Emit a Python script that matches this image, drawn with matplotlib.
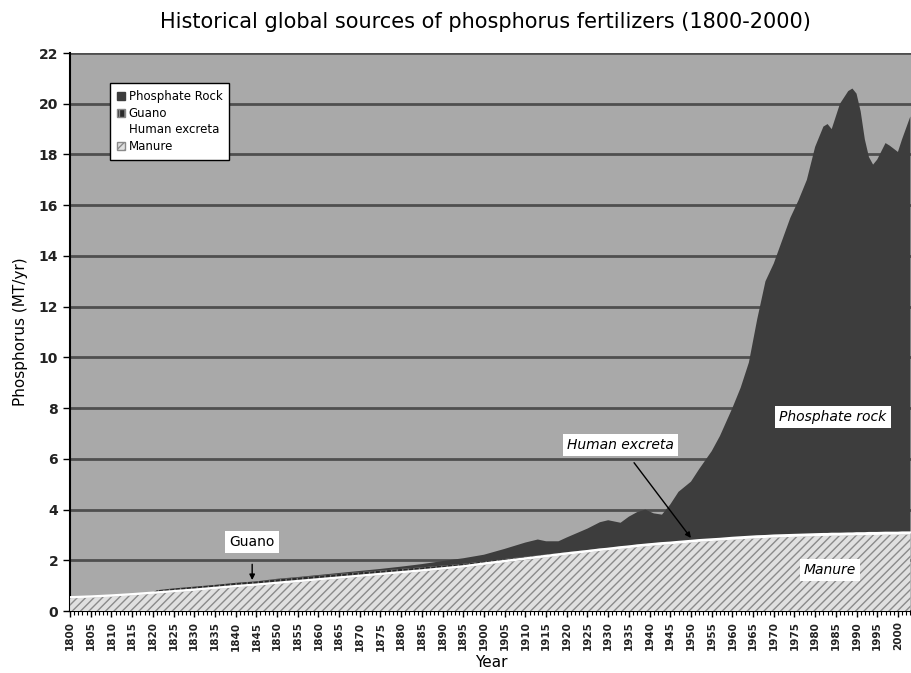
import numpy as np
import matplotlib
matplotlib.use("Agg")
import matplotlib.pyplot as plt
from matplotlib.patches import Patch

years = [1800, 1805, 1810, 1815, 1820, 1821, 1825, 1830, 1835, 1840, 1845, 1850,
         1855, 1860, 1865, 1870, 1875, 1880, 1885, 1890, 1895, 1900, 1905, 1910,
         1913, 1915, 1918, 1920, 1925, 1928, 1930, 1933, 1935, 1937, 1939, 1941,
         1943, 1945, 1947, 1950, 1952, 1955, 1957, 1960, 1962, 1964, 1966, 1968,
         1970, 1972, 1974, 1976, 1978, 1980, 1982, 1983, 1984, 1986, 1988, 1989,
         1990, 1991, 1992, 1993, 1994, 1995, 1997, 1998, 2000, 2001, 2003]

manure = [0.50, 0.53, 0.57, 0.62, 0.68, 0.69, 0.74, 0.80, 0.87, 0.94, 1.00, 1.07,
          1.14, 1.21, 1.28, 1.35, 1.42, 1.49, 1.56, 1.64, 1.72, 1.82, 1.92, 2.02,
          2.08, 2.12, 2.18, 2.22, 2.31, 2.37, 2.40, 2.45, 2.48, 2.52, 2.55, 2.58,
          2.61, 2.63, 2.66, 2.70, 2.73, 2.76, 2.78, 2.81, 2.83, 2.85, 2.87, 2.88,
          2.90, 2.91, 2.92, 2.93, 2.94, 2.95, 2.96, 2.96, 2.97, 2.97, 2.98, 2.98,
          2.99, 2.99, 2.99, 3.00, 3.00, 3.00, 3.01, 3.01, 3.01, 3.02, 3.02]

excreta = [0.05] * 21 + [0.06] * 10 + [0.07] * 12 + [0.08] * 28

guano = [0, 0, 0, 0, 0, 0.08, 0.10, 0.11, 0.11, 0.12, 0.12, 0.13,
         0.13, 0.13, 0.13, 0.13, 0.12, 0.12, 0.11, 0.10, 0.09, 0.08, 0.07, 0.06,
         0.05, 0.05, 0.04, 0.04, 0.03, 0.03, 0.03, 0.02, 0.02, 0.02, 0.02, 0.02,
         0.02, 0.02, 0.01, 0.01, 0.01, 0.01, 0.01] + [0] * 28

rock = [0, 0, 0, 0, 0, 0, 0, 0, 0, 0, 0, 0.02,
        0.02, 0.03, 0.04, 0.05, 0.07, 0.09, 0.13, 0.18, 0.22, 0.26, 0.40, 0.56,
        0.63, 0.52, 0.47, 0.58, 0.85, 1.04, 1.09, 0.94, 1.15, 1.29, 1.36, 1.18,
        1.10, 1.48, 1.96, 2.32, 2.79, 3.46, 4.04, 5.11, 5.89, 6.87, 8.55, 10.04,
        10.72, 11.61, 12.50, 13.19, 13.98, 15.27, 16.06, 16.16, 15.95, 16.95, 17.44, 17.54,
        17.33, 16.63, 15.53, 14.82, 14.52, 14.72, 15.36, 15.26, 15.01, 15.50, 16.40]

x = np.array(years)
m = np.array(manure)
e = m + np.array(excreta)
g = e + np.array(guano)
r = g + np.array(rock)

fig = plt.figure(figsize=(9.12, 6.73), dpi=100)
ax = fig.add_axes([0.0768, 0.0921, 0.9232, 0.8291])
ax.set_facecolor('#a9a9a9')

plt.rcParams['hatch.linewidth'] = 1.0
ax.fill_between(x, 0, m, facecolor='#e0e0e0', edgecolor='#8a8a8a', hatch='////', linewidth=0, zorder=3)
ax.fill_between(x, m, e, facecolor='white', linewidth=0, zorder=3)
ax.fill_between(x, e, g, facecolor='#2a2a2a', edgecolor='#777777', hatch='|||', linewidth=0, zorder=3)
ax.fill_between(x, g, r, facecolor='#3d3d3d', linewidth=0, zorder=3)
ax.plot(x, e, color='white', lw=1.4, zorder=4)

ax.set_xlim(1800, 2003.4)
ax.set_ylim(0, 22)
ax.set_yticks(np.arange(0, 23, 2))
ax.set_xticks(np.arange(1800, 2001, 5))
ax.set_xticks(np.arange(1800, 2004, 1), minor=True)
for v in range(2, 23, 2):
    ax.axhline(v, color='#4f4f4f', lw=2, zorder=1)

ax.tick_params(axis='y', direction='out', length=5, width=1, labelsize=10)
ax.tick_params(axis='x', which='major', direction='out', length=4, width=1, labelsize=7.5, labelrotation=90)
ax.tick_params(axis='x', which='minor', direction='out', length=3, width=0.8)
for lab in ax.get_xticklabels() + ax.get_yticklabels():
    lab.set_fontweight('bold')
    lab.set_color('#222222')
for s in ['top', 'right']:
    ax.spines[s].set_visible(False)
ax.spines['left'].set_linewidth(1.5)
ax.spines['bottom'].set_linewidth(1.5)

ax.set_ylabel('Phosphorus (MT/yr)', fontsize=11, labelpad=8)
ax.set_xlabel('Year', fontsize=11, labelpad=3)
fig.text(0.532, 0.968, 'Historical global sources of phosphorus fertilizers (1800-2000)',
         ha='center', va='center', fontsize=15)

handles = [Patch(facecolor='#3d3d3d', edgecolor='#3d3d3d', label='Phosphate Rock'),
           Patch(facecolor='#2a2a2a', edgecolor='#888888', hatch='|||', label='Guano'),
           Patch(facecolor='white', edgecolor='white', label='Human excreta'),
           Patch(facecolor='#e0e0e0', edgecolor='#8a8a8a', hatch='////', label='Manure')]
leg = ax.legend(handles=handles, loc='upper left', bbox_to_anchor=(0.047, 0.946),
                fontsize=8.5, frameon=True, fancybox=False, framealpha=1,
                handlelength=0.7, handleheight=0.7, handletextpad=0.3,
                labelspacing=0.3, borderpad=0.6, borderaxespad=0)
leg.get_frame().set_edgecolor('black')
leg.get_frame().set_facecolor('white')
leg.get_frame().set_linewidth(1)
leg.set_zorder(10)

box = dict(boxstyle='square,pad=0.3', facecolor='white', edgecolor='none')
ax.annotate('Guano', xy=(1844, 1.22), xytext=(1844, 2.72), ha='center', va='center',
            fontsize=10, bbox=box, zorder=10,
            arrowprops=dict(arrowstyle='-|>', color='black', lw=1, shrinkA=8, shrinkB=0, mutation_scale=8))
ax.annotate('Human excreta', xy=(1950, 2.88), xytext=(1933, 6.55), ha='center', va='center',
            fontsize=10, style='italic', bbox=box, zorder=10,
            arrowprops=dict(arrowstyle='-|>', color='black', lw=1, shrinkA=6, shrinkB=0, mutation_scale=8))
ax.text(1984.3, 7.65, 'Phosphate rock', ha='center', va='center', fontsize=10,
        style='italic', bbox=box, zorder=10)
ax.text(1983.6, 1.62, 'Manure', ha='center', va='center', fontsize=10,
        style='italic', bbox=box, zorder=10)

fig.savefig('out.png', dpi=100)
